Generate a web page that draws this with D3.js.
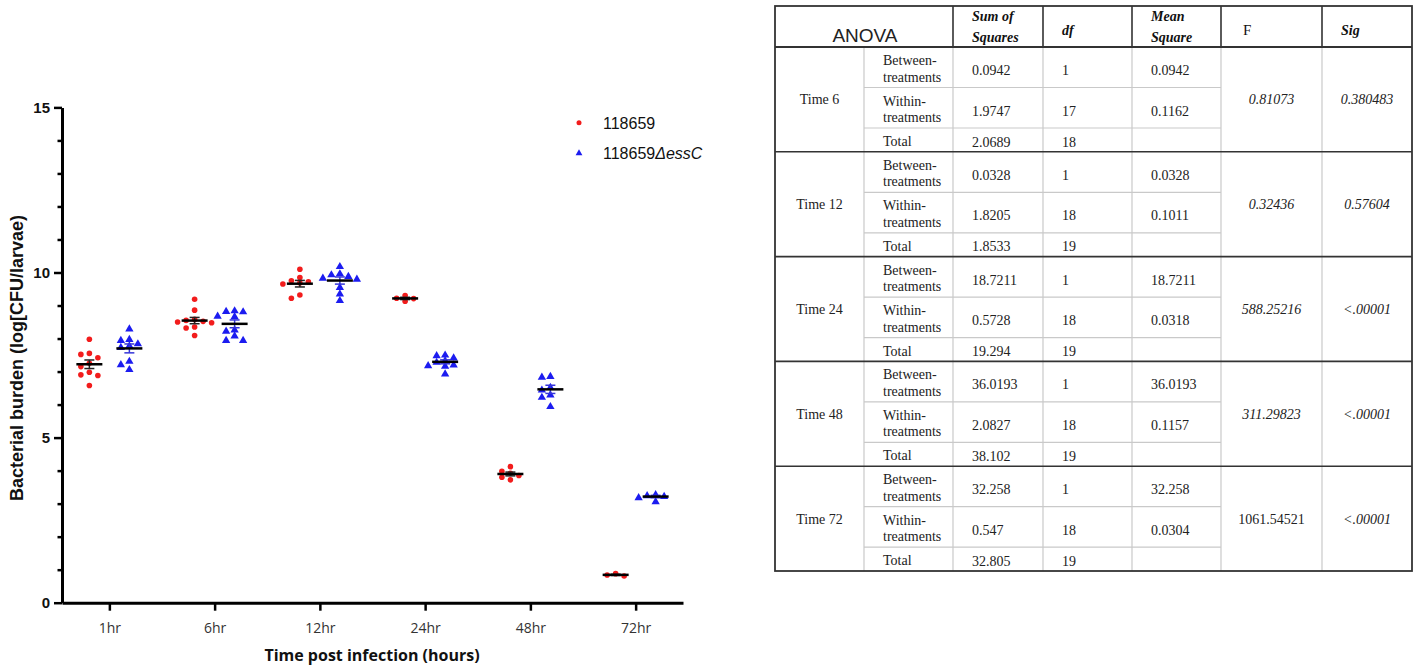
<!DOCTYPE html>
<html lang="en">
<head>
<meta charset="UTF-8">
<title>Bacterial burden post infection + ANOVA</title>
<script src="https://d3js.org/d3.v7.min.js"></script>
<style>
  body { margin: 0; background: #fff; }
  svg { display: block; }
  .axis path, .axis line { stroke: #000; }
  .cell { font-family: "Liberation Serif", "Times New Roman", serif; font-size: 14px; fill: #222; }
  .head { font-family: "Liberation Serif", "Times New Roman", serif; font-size: 14px; fill: #111; }
</style>
</head>
<body>
<svg id="chart" width="1417" height="672"></svg>
<script>
// ---- chart data (log CFU / larva) ----
const timepoints = ["1hr", "6hr", "12hr", "24hr", "48hr", "72hr"];
const strains = ["118659", "118659ΔessC"];
const wtBurden = [
  [7.98, 7.55, 7.52, 7.42, 7.25, 7.15, 6.98, 6.90, 6.88, 6.58],
  [9.19, 8.86, 8.58, 8.55, 8.52, 8.50, 8.48, 8.35, 8.32, 8.09],
  [10.10, 9.85, 9.75, 9.72, 9.68, 9.65, 9.32, 9.22],
  [9.30, 9.22, 9.21, 9.13],
  [4.12, 3.98, 3.92, 3.85, 3.80, 3.72],
  [0.81, 0.84, 0.88]
];
const essCBurden = [
  [8.31, 7.99, 7.96, 7.86, 7.80, 7.75, 7.33, 7.23, 7.08],
  [8.86, 8.84, 8.83, 8.70, 8.68, 8.28, 8.24, 8.10, 7.96, 7.96],
  [10.20, 9.98, 9.95, 9.90, 9.85, 9.82, 9.57, 9.37, 9.17],
  [7.52, 7.50, 7.43, 7.35, 7.30, 7.22, 7.20, 7.18, 6.95],
  [6.87, 6.85, 6.54, 6.46, 6.31, 6.24, 5.96],
  [3.29, 3.26, 3.24, 3.20, 3.08]
];
const yTicks = [0, 5, 10, 15];
const yMinorTicks = [1, 2, 3, 4, 6, 7, 8, 9, 11, 12, 13, 14];

// ---- ANOVA table ----
const anovaHeader = ["Sum of Squares", "df", "Mean Square", "F", "Sig"];
const anovaTimes = ["Time 6", "Time 12", "Time 24", "Time 48", "Time 72"];
const sourceRows = [["Between-", "treatments"], ["Within-", "treatments"], ["Total"]];
const sumSquares = [
  ["0.0942", "1.9747", "2.0689"],
  ["0.0328", "1.8205", "1.8533"],
  ["18.7211", "0.5728", "19.294"],
  ["36.0193", "2.0827", "38.102"],
  ["32.258", "0.547", "32.805"]
];
const dfValues = [
  ["1", "17", "18"],
  ["1", "18", "19"],
  ["1", "18", "19"],
  ["1", "18", "19"],
  ["1", "18", "19"]
];
const meanSquares = [
  ["0.0942", "0.1162"],
  ["0.0328", "0.1011"],
  ["18.7211", "0.0318"],
  ["36.0193", "0.1157"],
  ["32.258", "0.0304"]
];
const fValues = ["0.81073", "0.32436", "588.25216", "311.29823", "1061.54521"];
const sigValues = ["0.380483", "0.57604", "<.00001", "<.00001", "<.00001"];

const svg = d3.select("#chart");
const colors = {"118659": "#f21c1c", "118659ΔessC": "#1c1cf0"};

const x = d3.scalePoint().domain(timepoints).range([62, 683]).padding(0.45);
const offset = d3.scalePoint().domain(strains).range([-20, 20]);
const y = d3.scaleLinear().domain([0, 15]).range([602.7, 107.4]);

// axes
const yAxis = svg.append("g").attr("class", "axis")
  .attr("transform", "translate(62,0)")
  .call(d3.axisLeft(y).tickValues(yTicks).tickSize(8).tickSizeOuter(0).tickPadding(4));
yAxis.select(".domain").attr("stroke-width", 3);
yAxis.selectAll(".tick line").attr("stroke-width", 2.5);
yAxis.selectAll("text").attr("font-family", "Liberation Sans, Arial, sans-serif")
  .attr("font-size", 15).attr("font-weight", "bold").attr("fill", "#111");

svg.append("g").attr("class", "axis")
  .attr("transform", "translate(62,0)")
  .call(d3.axisLeft(y).tickValues(yMinorTicks).tickSize(4.5).tickFormat(""))
  .call(g => g.select(".domain").remove())
  .selectAll("line").attr("stroke-width", 2.5);

const xAxis = svg.append("g").attr("class", "axis")
  .attr("transform", `translate(0,${y(0)})`)
  .call(d3.axisBottom(x).tickSize(8).tickSizeOuter(0).tickPadding(12));
xAxis.select(".domain").attr("stroke-width", 3);
xAxis.selectAll(".tick line").attr("stroke-width", 2.5);
xAxis.selectAll("text").attr("font-family", "Open Sans, sans-serif")
  .attr("font-size", 14).attr("fill", "#333");

svg.append("text")
  .attr("transform", "translate(23,358) rotate(-90)")
  .attr("text-anchor", "middle")
  .attr("font-family", "Liberation Sans, Arial, sans-serif")
  .attr("font-size", 18).attr("font-weight", "bold").attr("fill", "#111")
  .text("Bacterial burden (log[CFU/larvae)");

svg.append("text")
  .attr("x", 372).attr("y", 661)
  .attr("text-anchor", "middle")
  .attr("font-family", "Open Sans, sans-serif")
  .attr("font-size", 16).attr("font-weight", "bold").attr("fill", "#111")
  .text("Time post infection (hours)");

// simple column-scatter layout: stack points sideways when they overlap vertically
function swarm(values, cx) {
  const placed = [];
  const step = 8.5, minGap = 5.5;
  values.slice().sort((a, b) => b - a).forEach(v => {
    const py = y(v);
    for (let k = 0; k < 20; k++) {
      const slot = k === 0 ? 0 : (k % 2 ? -Math.ceil(k / 2) : k / 2);
      const px = cx + slot * step;
      if (placed.every(p => Math.hypot(p.x - px, p.y - py) >= minGap)) {
        placed.push({x: px, y: py, v});
        break;
      }
    }
  });
  return placed;
}

const triangle = d3.symbol(d3.symbolTriangle, 30);

[wtBurden, essCBurden].forEach((series, si) => {
  const strain = strains[si];
  series.forEach((vals, ti) => {
    const cx = x(timepoints[ti]) + offset(strain);
    const pts = swarm(vals, cx);
    const g = svg.append("g");
    if (si === 0) {
      g.selectAll("circle").data(pts).join("circle")
        .attr("cx", d => d.x).attr("cy", d => d.y).attr("r", 2.8)
        .attr("fill", colors[strain]);
    } else {
      g.selectAll("path").data(pts).join("path")
        .attr("d", triangle)
        .attr("transform", d => `translate(${d.x},${d.y + 0.8})`)
        .attr("fill", colors[strain]);
    }
    const mean = d3.mean(vals);
    const sem = d3.deviation(vals) / Math.sqrt(vals.length);
    const barColor = si === 0 ? "#222" : "#3535d8";
    g.append("line")
      .attr("x1", cx).attr("x2", cx).attr("y1", y(mean - sem)).attr("y2", y(mean + sem))
      .attr("stroke", barColor).attr("stroke-width", 1.5);
    [mean - sem, mean + sem].forEach(v => {
      g.append("line")
        .attr("x1", cx - 5).attr("x2", cx + 5).attr("y1", y(v)).attr("y2", y(v))
        .attr("stroke", barColor).attr("stroke-width", 1.5);
    });
    g.append("line")
      .attr("x1", cx - 13).attr("x2", cx + 13).attr("y1", y(mean)).attr("y2", y(mean))
      .attr("stroke", "#000").attr("stroke-width", 2.5);
  });
});

// legend
const legend = svg.append("g").attr("font-family", "Liberation Sans, Arial, sans-serif")
  .attr("font-size", 16).attr("fill", "#111");
strains.forEach((s, i) => {
  const ly = 122.7 + i * 30;
  if (i === 0) {
    legend.append("circle").attr("cx", 579).attr("cy", ly).attr("r", 2.5).attr("fill", colors[s]);
  } else {
    legend.append("path").attr("d", d3.symbol(d3.symbolTriangle, 20))
      .attr("transform", `translate(579,${ly + 0.5})`).attr("fill", colors[s]);
  }
  const t = legend.append("text").attr("x", 603).attr("y", ly + 5.8);
  const base = s.replace("ΔessC", "");
  t.append("tspan").text(base);
  if (s !== base) t.append("tspan").attr("font-style", "italic").text("ΔessC");
});

// ---- table ----
const colX = [775, 864, 953, 1043, 1132, 1221, 1322, 1412];
const tTop = 6, headBottom = 47, tBottom = 571;
const groupY = d3.scaleLinear().domain([0, anovaTimes.length]).range([headBottom, tBottom]);
const subRow = [0, 40.5, 81, 104.8];

const tbl = svg.append("g");
const light = "#c9c9c9", dark = "#333";

// light body grid
colX.slice(1, 7).forEach(cx => {
  tbl.append("line").attr("x1", cx).attr("x2", cx).attr("y1", headBottom).attr("y2", tBottom)
    .attr("stroke", light).attr("stroke-width", 1.2);
});
anovaTimes.forEach((t, gi) => {
  const gy = groupY(gi);
  [1, 2].forEach(r => {
    tbl.append("line").attr("x1", colX[1]).attr("x2", colX[5])
      .attr("y1", gy + subRow[r]).attr("y2", gy + subRow[r])
      .attr("stroke", light).attr("stroke-width", 1.2);
  });
  if (gi > 0) {
    tbl.append("line").attr("x1", colX[0]).attr("x2", colX[7]).attr("y1", gy).attr("y2", gy)
      .attr("stroke", dark).attr("stroke-width", 1.6);
  }
});
// header lines + outer border
[2, 3, 4, 5, 6].forEach(c => {
  tbl.append("line").attr("x1", colX[c]).attr("x2", colX[c]).attr("y1", tTop).attr("y2", headBottom)
    .attr("stroke", dark).attr("stroke-width", 1.6);
});
tbl.append("line").attr("x1", colX[0]).attr("x2", colX[7]).attr("y1", headBottom).attr("y2", headBottom)
  .attr("stroke", dark).attr("stroke-width", 1.8);
tbl.append("rect").attr("x", colX[0]).attr("y", tTop)
  .attr("width", colX[7] - colX[0]).attr("height", tBottom - tTop)
  .attr("fill", "none").attr("stroke", dark).attr("stroke-width", 1.8);

// header text
tbl.append("text").attr("x", 865).attr("y", 42).attr("text-anchor", "middle")
  .attr("font-family", "Liberation Sans, Arial, sans-serif").attr("font-size", 19).attr("fill", "#222")
  .text("ANOVA");
anovaHeader.forEach((h, i) => {
  const hx = i === 3 ? colX[5] + 22 : colX[i + 2] + 19;
  const words = h.split(" ");
  const t = tbl.append("text").attr("class", "head").attr("x", hx)
    .style("font-weight", h === "F" ? "normal" : "bold")
    .style("font-style", h === "F" ? "normal" : "italic")
    .style("font-size", h === "F" ? "15px" : "14px");
  if (words.length === 3) {
    t.append("tspan").attr("x", hx).attr("y", 21).text(words[0] + " " + words[1]);
    t.append("tspan").attr("x", hx).attr("y", 42).text(words[2]);
  } else if (words.length === 2) {
    t.append("tspan").attr("x", hx).attr("y", 21).text(words[0]);
    t.append("tspan").attr("x", hx).attr("y", 42).text(words[1]);
  } else {
    t.attr("y", 35).text(h);
  }
});

// body text
anovaTimes.forEach((tName, gi) => {
  const gy = groupY(gi);
  const mid = gy + (groupY(gi + 1) - gy) / 2;
  tbl.append("text").attr("class", "cell").attr("x", (colX[0] + colX[1]) / 2).attr("y", mid + 5)
    .attr("text-anchor", "middle").text(tName);
  sourceRows.forEach((lines, r) => {
    const ry = gy + subRow[r];
    const txt = tbl.append("text").attr("class", "cell");
    lines.forEach((ln, li) => {
      txt.append("tspan").attr("x", colX[1] + 19).attr("y", ry + 18 + li * 16.5).text(ln);
    });
    const vy = lines.length > 1 ? ry + 28 : ry + 18.5;
    tbl.append("text").attr("class", "cell").attr("x", colX[2] + 19).attr("y", vy).text(sumSquares[gi][r]);
    tbl.append("text").attr("class", "cell").attr("x", colX[3] + 19).attr("y", vy).text(dfValues[gi][r]);
    if (r < 2) {
      tbl.append("text").attr("class", "cell").attr("x", colX[4] + 19).attr("y", vy).text(meanSquares[gi][r]);
    }
  });
  tbl.append("text").attr("class", "cell").attr("x", (colX[5] + colX[6]) / 2).attr("y", mid + 5)
    .attr("text-anchor", "middle")
    .attr("font-style", gi === anovaTimes.length - 1 ? "normal" : "italic")
    .text(fValues[gi]);
  tbl.append("text").attr("class", "cell").attr("x", (colX[6] + colX[7]) / 2).attr("y", mid + 5)
    .attr("text-anchor", "middle").attr("font-style", "italic")
    .text(sigValues[gi]);
});
</script>
</body>
</html>
